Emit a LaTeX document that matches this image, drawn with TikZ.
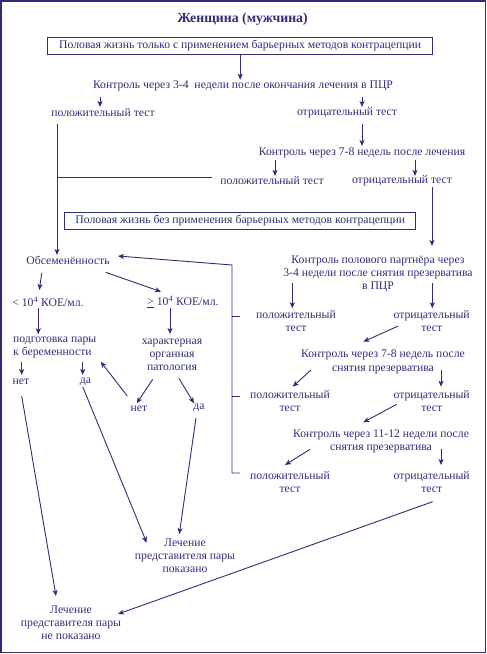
\documentclass[tikz,border=0pt]{standalone}
\usepackage{fontspec}
\setmainfont{Liberation Serif}
\usetikzlibrary{arrows.meta,calc}
\definecolor{ink}{RGB}{46,46,120}
\begin{document}
\begin{tikzpicture}[x=1pt,y=-1pt,
  txt/.style={font=\fontsize{11.7}{13.3}\selectfont, text=ink, inner sep=1pt, align=center},
  boxed/.style={txt, draw=ink, line width=1pt, minimum height=17pt},
  arr/.style={draw=ink, line width=0.9pt, -{Stealth[length=6pt,width=5pt,inset=1.5pt]}},
  ln/.style={draw=ink, line width=0.9pt}]
\useasboundingbox (0,0) rectangle (487,654);
\draw[ink, line width=1.2pt] (1,1) rectangle (485.5,652.5);
% nodes
\node[txt, font=\fontsize{13.8}{15}\selectfont\bfseries] (title) at (242.5,19) {Женщина (мужчина)};
\node[boxed, minimum width=385pt] (box1) at (240.2,45.8) {Половая жизнь только с применением барьерных методов контрацепции};
\node[txt] (ctl1) at (243,86) {Контроль через 3-4\ \ недели после окончания лечения в ПЦР};
\node[txt] (pos1) at (103,113) {положительный тест};
\node[txt] (neg1) at (347,113) {отрицательный тест};
\node[txt] (ctl2) at (362,153) {Контроль через 7-8 недель после лечения};
\node[txt] (pos2) at (272,181) {положительный тест};
\node[txt] (neg2) at (402,181) {отрицательный тест};
\node[boxed, minimum width=350.7pt] (box2) at (240.3,220.7) {Половая жизнь без применения барьерных методов контрацепции};
\node[txt] (obs) at (68,260) {Обсеменённость};
\node[txt] (ctlP) at (378,274) {Контроль полового партнёра через\\3-4 недели после снятия презерватива\\в ПЦР};
\node[txt] (posP1) at (296,320.7) {положительный\\тест};
\node[txt] (negP1) at (431.7,320.7) {отрицательный\\тест};
\node[txt] (ctlP2) at (383,361.7) {Контроль через 7-8 недель после\\снятия презерватива};
\node[txt] (posP2) at (290,401.3) {положительный\\тест};
\node[txt] (negP2) at (431.7,401.3) {отрицательный\\тест};
\node[txt] (ctlP3) at (381,441.7) {Контроль через 11-12 недели после\\снятия презерватива};
\node[txt] (posP3) at (290,481.7) {положительный\\тест};
\node[txt] (negP3) at (431.7,481.7) {отрицательный\\тест};
\node[txt] (lt) at (48,301.7) {< 10\textsuperscript{4} КОЕ/мл.};
\node[txt] (ge) at (183,301.7) {\underline{>} 10\textsuperscript{4} КОЕ/мл.};
\node[txt, align=left, anchor=west] (prep) at (12,347.7) {подготовка пары\\к беременности};
\node[txt] (pat) at (172,354.7) {характерная\\органная\\патология};
\node[txt] (no1) at (21,381.7) {нет};
\node[txt] (yes1) at (85.5,381.7) {да};
\node[txt] (no2) at (139,408.3) {нет};
\node[txt] (yes2) at (199,408.3) {да};
\node[txt] (treat) at (185,555.7) {Лечение\\представителя пары\\показано};
\node[txt] (notreat) at (71,622.7) {Лечение\\представителя пары\\не показано};
% connectors
\draw[arr] (box1.south) -- (box1.south |- ctl1.north);
\draw[arr] ($(ctl1)+(-143,11)$) -- ($(pos1)+(-3,-6)$);
\draw[arr] ($(ctl1)+(119,11)$) -- ($(neg1)+(15,-6)$);
\draw[arr] ($(pos1)+(-46,11)$) -- ($(obs)+(-11,-5)$);
\draw[arr] ($(neg1)+(15,11)$) -- ($(ctl2)+(0,-7)$);
\draw[arr] ($(ctl2)+(-87,7)$) -- ($(pos2)+(3,-5)$);
\draw[arr] ($(ctl2)+(53,7)$) -- ($(neg2)+(13,-5)$);
\draw[ln] ($(pos2.west)+(-7,-3.7)$) -- ($(pos1)+(-46,64.3)$);
\draw[arr] ($(neg2)+(30,6)$) -- ($(ctlP)+(54,-28)$);
% feedback rail
\draw[ln] ($(posP1)+(-56,-4)$) -- ++(-8,0);
\draw[ln] ($(posP2)+(-50,-5.3)$) -- ++(-8,0);
\draw[arr] ($(posP3)+(-50,-8.7)$) -- ++(-8,0) -- ++(0,-208) -- ($(obs)+(50,-4)$);
% right column
\draw[arr] ($(ctlP)+(-85.7,8.7)$) -- ($(posP1)+(-3.7,-12.4)$);
\draw[arr] ($(ctlP)+(54.3,8.7)$) -- ($(negP1)+(0.6,-12.4)$);
\draw[arr] ($(negP1)+(-33.4,5.3)$) -- ($(ctlP2)+(-19.7,-20)$);
\draw[arr] ($(ctlP2)+(-72,8.3)$) -- ($(posP2)+(2.7,-14.6)$);
\draw[arr] ($(ctlP2)+(58,8.3)$) -- ($(negP2)+(9.3,-14.6)$);
\draw[arr] ($(negP2)+(-35,3)$) -- ($(ctlP3)+(-17.7,-19.4)$);
\draw[arr] ($(ctlP3)+(-71,7.6)$) -- ($(posP3)+(-5,-16.7)$);
\draw[arr] ($(ctlP3)+(60,7.6)$) -- ($(negP3)+(9.3,-16.7)$);
\draw[arr] ($(negP3)+(1,20)$) -- ($(notreat)+(47,-8.7)$);
% left column
\draw[arr] ($(obs)+(-26.3,13.3)$) -- ($(lt)+(-8.7,-11.7)$);
\draw[arr] ($(obs)+(37.7,12.3)$) -- ($(ge)+(-22,-10)$);
\draw[arr] ($(lt)+(-9.7,6.6)$) -- ($(prep.west)+(26.3,-13.4)$);
\draw[arr] ($(ge)+(-13,6.3)$) -- ($(pat)+(-2,-20.7)$);
\draw[arr] ($(prep.west)+(9.7,14)$) -- ($(no1)+(0.7,-6.7)$);
\draw[arr] ($(prep.west)+(70.7,14)$) -- ($(yes1)+(-2.8,-6.7)$);
\draw[arr] ($(no2)+(-11.7,-12.3)$) -- ($(prep.west)+(88.7,14)$);
\draw[arr] ($(pat)+(-19.3,24.6)$) -- ($(no2)+(-2.3,-5)$);
\draw[arr] ($(pat)+(7,23.6)$) -- ($(yes2)+(-5,-5)$);
\draw[arr] ($(no1)+(0.7,14.3)$) -- ($(notreat)+(-15,-26.7)$);
\draw[arr] ($(yes1)+(-2.8,5)$) -- ($(treat)+(-38.3,-13)$);
\draw[arr] ($(yes2)+(-3,9.7)$) -- ($(treat)+(-5.7,-21.7)$);
\end{tikzpicture}
\end{document}
